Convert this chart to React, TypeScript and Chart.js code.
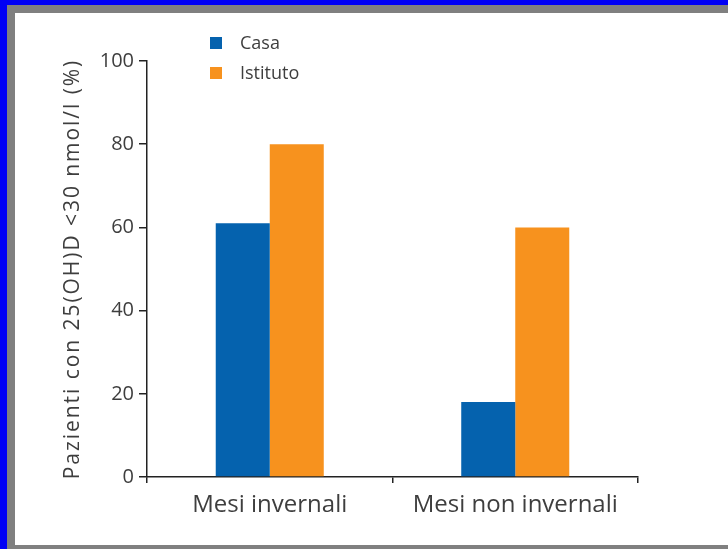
import React, { useEffect, useRef } from "react";
import { Chart, registerables } from "chart.js";

Chart.register(...registerables);

const categories = ["Mesi invernali", "Mesi non invernali"];
const seriesNames = ["Casa", "Istituto"];
const casaValues = [61, 18];
const istitutoValues = [80, 60];
const yTickValues = [0, 20, 40, 60, 80, 100];
const yTitle = "Pazienti con 25(OH)D <30 nmol/l (%)";

const BLUE = "#0562AE";
const ORANGE = "#F7921E";
const TEXT = "#3e3e3e";
const AXIS = "#222222";
const FONT = '"Open Sans", "Noto Sans", sans-serif';

const insideLegend = {
  id: "insideLegend",
  afterDraw(chart: any) {
    const { ctx, chartArea } = chart;
    ctx.save();
    chart.data.datasets.forEach((ds: any, i: number) => {
      const x = chartArea.left + 63;
      const y = chartArea.top - 24 + i * 30;
      ctx.fillStyle = ds.backgroundColor;
      ctx.fillRect(x, y, 12, 12);
      ctx.fillStyle = TEXT;
      ctx.font = `18px ${FONT}`;
      ctx.textAlign = "left";
      ctx.textBaseline = "middle";
      ctx.fillText(ds.label, x + 30, y + 7);
    });
    ctx.restore();
  },
};

const yTitlePlugin = {
  id: "yTitlePlugin",
  afterDraw(chart: any) {
    const { ctx, chartArea } = chart;
    ctx.save();
    ctx.translate(chartArea.left - 74, (chartArea.top + chartArea.bottom) / 2);
    ctx.rotate(-Math.PI / 2);
    ctx.fillStyle = TEXT;
    ctx.font = `21px ${FONT}`;
    (ctx as any).letterSpacing = "1.95px";
    ctx.textAlign = "center";
    ctx.textBaseline = "middle";
    ctx.fillText(yTitle, 0, 0);
    ctx.restore();
  },
};

export default function App() {
  const canvasRef = useRef<HTMLCanvasElement | null>(null);

  useEffect(() => {
    const html = document.documentElement;
    const body = document.body;
    html.style.overflow = "hidden";
    body.style.overflow = "hidden";
    html.style.background = "#ffffff";
    body.style.margin = "0";

    if (!canvasRef.current) return;
    const chart = new Chart(canvasRef.current, {
      type: "bar",
      data: {
        labels: categories,
        datasets: [
          {
            label: seriesNames[0],
            data: casaValues,
            backgroundColor: BLUE,
            borderWidth: 0,
            categoryPercentage: 0.44,
            barPercentage: 1.0,
          },
          {
            label: seriesNames[1],
            data: istitutoValues,
            backgroundColor: ORANGE,
            borderWidth: 0,
            categoryPercentage: 0.44,
            barPercentage: 1.0,
          },
        ],
      },
      options: {
        animation: false,
        responsive: false,
        devicePixelRatio: 1,
        layout: { padding: { left: 0, top: 48, right: 90, bottom: 0 } },
        plugins: {
          legend: { display: false },
          tooltip: { enabled: false },
          title: { display: false },
        },
        scales: {
          x: {
            offset: true,
            grid: {
              display: true,
              offset: true,
              drawOnChartArea: false,
              drawTicks: true,
              tickLength: 6,
              color: AXIS,
              lineWidth: 1.5,
            },
            border: { display: true, color: AXIS, width: 1.5 },
            ticks: {
              font: { family: FONT, size: 24 },
              color: TEXT,
              padding: 8,
              maxRotation: 0,
              autoSkip: false,
            },
            afterFit: (s: any) => {
              s.height = 68;
            },
          },
          y: {
            min: 0,
            max: 100,
            afterBuildTicks: (s: any) => {
              s.ticks = yTickValues.map((v) => ({ value: v }));
            },
            grid: {
              display: true,
              drawOnChartArea: false,
              drawTicks: true,
              tickLength: 8,
              color: AXIS,
              lineWidth: 1.5,
            },
            border: { display: true, color: AXIS, width: 1.5 },
            ticks: {
              font: { family: FONT, size: 20 },
              color: TEXT,
              padding: 5,
            },
            afterFit: (s: any) => {
              s.width = 132;
            },
          },
        },
      },
      plugins: [insideLegend, yTitlePlugin],
    });
    return () => chart.destroy();
  }, []);

  return (
    <div
      style={{
        position: "fixed",
        left: 0,
        top: 0,
        width: 728,
        height: 549,
        background: "#0000F5",
        overflow: "hidden",
      }}
    >
      <div
        style={{
          position: "absolute",
          left: 7,
          top: 5,
          width: 760,
          height: 544,
          background: "#808080",
        }}
      >
        <div
          style={{
            position: "absolute",
            left: 8,
            top: 8,
            width: 760,
            height: 532,
            background: "#ffffff",
          }}
        >
          <canvas
            ref={canvasRef}
            width={713}
            height={532}
            style={{ display: "block", width: 713, height: 532 }}
          />
        </div>
      </div>
    </div>
  );
}
